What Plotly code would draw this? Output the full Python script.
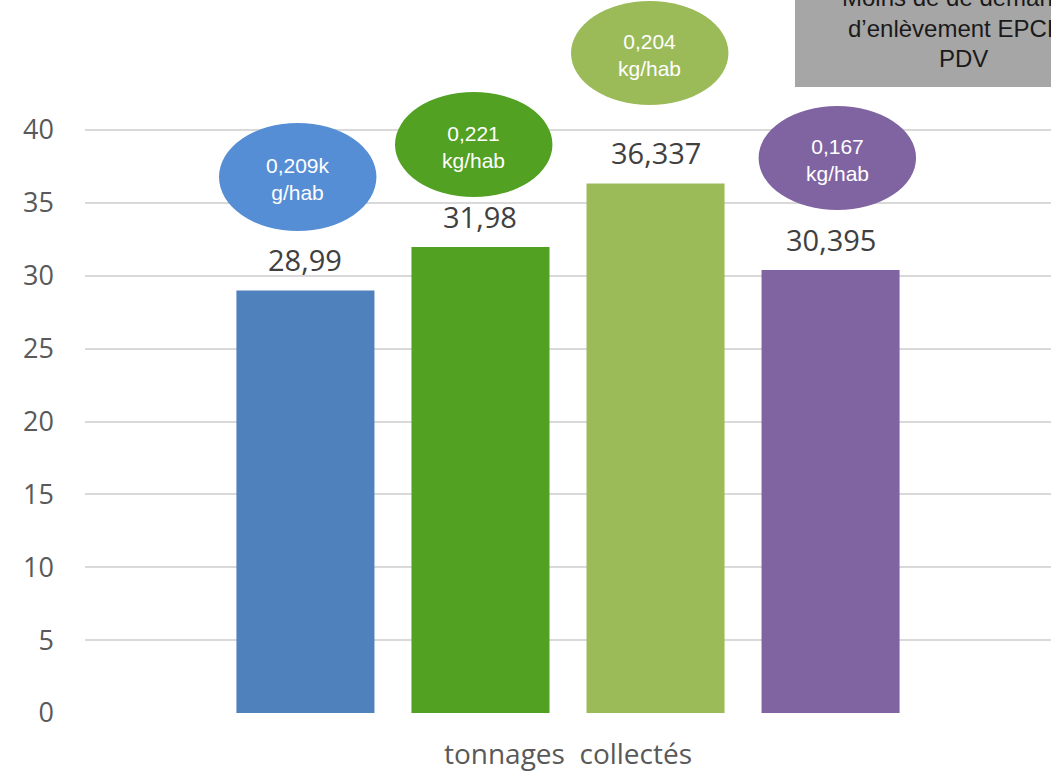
import plotly.graph_objects as go

# ---- data ----
category = "tonnages\u00a0 collectés"
series_names = ["S1", "S2", "S3", "S4"]
values = [28.99, 31.98, 36.337, 30.395]
value_labels = ["28,99", "31,98", "36,337", "30,395"]
bubble_texts = ["0,209k<br>g/hab", "0,221<br>kg/hab", "0,204<br>kg/hab", "0,167<br>kg/hab"]
y_ticks = [0, 5, 10, 15, 20, 25, 30, 35, 40]
note_lines = ["Moins de de demandes", "d\u2019enlèvement EPCI", "PDV"]

# ---- styles / positions ----
bar_colors = ["#4f81bd", "#52a123", "#9bbb59", "#8064a2"]
bubble_colors = ["#558ed5", "#52a123", "#9bbb59", "#8064a2"]
slot = 0.1812
bar_w = 0.1429
bubble_dx = [-0.008, -0.007, -0.006, 0.007]
bubble_half_w = 0.0815
bubble_y = [(33.07, 40.48), (35.40, 42.61), (41.71, 48.85), (34.51, 41.65)]

W, H = 1051, 776
L, R, T, B = 85, 0, 0, 63
plot_w = W - L - R
plot_h = H - T - B
y_max = 48.92

fig = go.Figure()
centers = [(i - 1.5) * slot for i in range(len(values))]
for i, v in enumerate(values):
    fig.add_trace(go.Bar(
        x=[category], y=[v], name=series_names[i],
        marker=dict(color=bar_colors[i], line=dict(width=0)),
        width=bar_w, offset=centers[i] - bar_w / 2,
        showlegend=False, hoverinfo="skip",
    ))
    fig.add_annotation(
        x=centers[i], y=v, xref="x", yref="y", text=value_labels[i],
        showarrow=False, yanchor="bottom", yshift=9,
        font=dict(family="Open Sans", size=29, color="#404040"),
    )

shapes = []
for i in range(len(values)):
    cx = centers[i] + bubble_dx[i]
    y0, y1 = bubble_y[i]
    shapes.append(dict(type="circle", xref="x", yref="y",
                       x0=cx - bubble_half_w, x1=cx + bubble_half_w, y0=y0, y1=y1,
                       fillcolor=bubble_colors[i], line=dict(width=0), layer="above"))
    fig.add_annotation(
        x=cx, y=(y0 + y1) / 2, xref="x", yref="y", text=bubble_texts[i],
        showarrow=False, font=dict(family="Liberation Sans", size=21, color="white"),
        yshift=-2,
    )

def px_x(px):
    return (px - L) / plot_w

def px_y(py):
    return (H - B - py) / plot_h

# grey note box (partially off-canvas)
shapes.append(dict(type="rect", xref="paper", yref="paper",
                   x0=px_x(795), x1=px_x(1135), y0=px_y(87), y1=px_y(-20),
                   fillcolor="#a6a6a6", line=dict(width=0), layer="above"))
note_pos = [(840, -2, "left"), (846, 28, "left"), (963, 59, "center")]
for (nx, ny, anc), txt in zip(note_pos, note_lines):
    fig.add_annotation(
        x=px_x(nx), y=px_y(ny), xref="paper", yref="paper", text=txt,
        showarrow=False, xanchor=anc, yanchor="middle",
        font=dict(family="Liberation Sans", size=24, color="#1a1a1a"),
    )

fig.update_layout(
    width=W, height=H,
    margin=dict(l=L, r=R, t=T, b=B, pad=0),
    paper_bgcolor="white", plot_bgcolor="white",
    barmode="overlay",
    shapes=shapes,
    xaxis=dict(range=[-0.5, 0.5], showgrid=False, zeroline=False, showline=False,
               ticks="", ticklabelstandoff=22,
               tickfont=dict(family="Open Sans", size=28, color="#595959")),
    yaxis=dict(range=[0, y_max], tickvals=y_ticks, showgrid=True, gridcolor="#d9d9d9",
               gridwidth=1.5, zeroline=False, showline=False, ticks="",
               ticklabelstandoff=30,
               tickfont=dict(family="Open Sans", size=27, color="#595959")),
)

fig.write_html("out.html", config={"displayModeBar": False},
               post_script="document.body.style.margin='0';")
